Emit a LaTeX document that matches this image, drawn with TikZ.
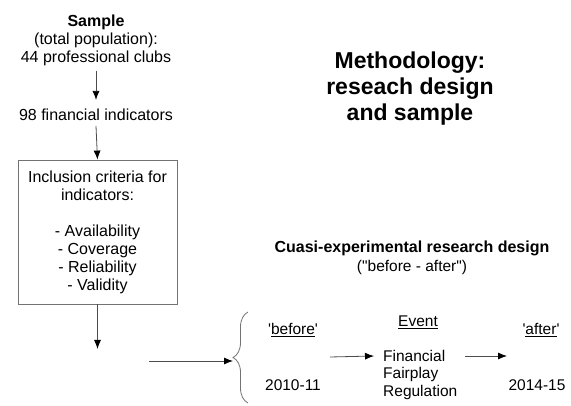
\documentclass[tikz,border=0pt]{standalone}
\usepackage{fontspec}
\setmainfont{Liberation Sans}
\usetikzlibrary{arrows.meta,decorations.pathreplacing}

\tikzset{
    txt/.style={inner sep=0pt, align=center, font=\fontsize{16}{18}\selectfont},
    rtxt/.style={inner sep=0pt, font=\fontsize{15.5}{18}\selectfont},
    arr/.style={draw=black!70, line width=0.8pt, -{Latex[length=9pt,width=7pt,color=black]}},
    critbox/.style={draw=black!55, line width=0.8pt, minimum width=159pt, minimum height=144pt,
        align=center, inner sep=0pt, font=\fontsize{16}{18}\selectfont}
}

\begin{document}
\begin{tikzpicture}[x=1pt, y=-1pt]
        \useasboundingbox (0,0) rectangle (571,406);
        % linke Spalte
        \node[txt] (sample) at (96,40) {\textbf{Sample}\\(total population):\\44 professional clubs};
        \node[txt] (indic) at (96,115) {98 financial indicators};
        \node[critbox] (crit) at (97.5,232) {Inclusion criteria for\\indicators:\\[18pt]- Availability\\- Coverage\\- Reliability\\- Validity};
        \coordinate (critend) at (97.5,349);
        \draw[arr] ([yshift=-5pt]sample.south) -- ([yshift=9pt]indic.north);
        \draw[arr] ([yshift=-5pt]indic.south) -- (crit.north);
        \draw[arr] (crit.south) -- (critend);

        % Titel
        \node[txt, font=\fontsize{23}{26}\selectfont\bfseries] (title) at (410,89) {Methodology:\\reseach design\\and sample};

        % Versuchsplan
        \node[txt, font=\fontsize{16}{19}\selectfont\bfseries] (design) at (412,248) {Cuasi-experimental research design};
        \node[rtxt] (ba) at (412,267) {(\textquotedbl before - after\textquotedbl)};

        % Klammer
        \coordinate (bracebot) at (248,403);
        \coordinate (bracetop) at (248,312);
        \coordinate (bracetip) at (233,361);
        \coordinate (arrstart) at (149,361);
        \draw[black!55, line width=0.8pt, decorate, decoration={brace, amplitude=15pt}] (bracebot) -- (bracetop);
        \draw[arr] (arrstart) -- (bracetip);

        % vorher / Ereignis / nachher
        \node[rtxt] (before) at (293,330) {\textquotesingle\underline{before}\textquotesingle};
        \node[rtxt] (y1) at (293,385) {2010-11};
        \node[rtxt] (event) at (418,322) {\underline{Event}};
        \node[rtxt, anchor=west] (fin) at (383,356) {Financial};
        \node[rtxt, anchor=west] (fair) at (383,374) {Fairplay};
        \node[rtxt, anchor=west] (reg) at (383,392) {Regulation};
        \node[rtxt] (after) at (541,330) {\textquotesingle\underline{after}\textquotesingle};
        \node[rtxt] (y2) at (537,385) {2014-15};
        \coordinate (a1) at (330,357);
        \coordinate (a2) at (507,356);
        \draw[arr] (a1) -- ([xshift=-9pt]fin.west);
        \draw[arr] ([xshift=20pt]fin.east) -- (a2);
    \end{tikzpicture}
\end{document}
